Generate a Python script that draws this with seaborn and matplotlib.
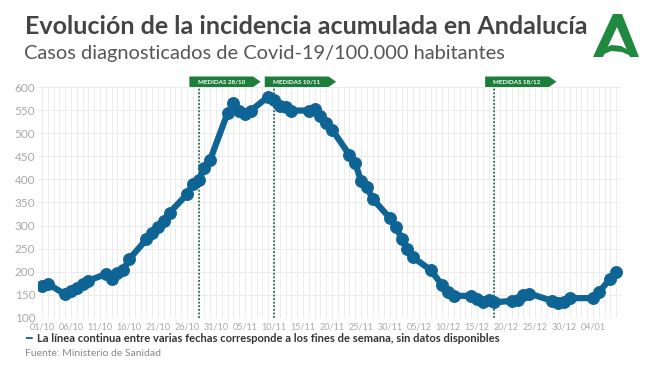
import pandas as pd
import numpy as np
import seaborn as sns
import matplotlib.pyplot as plt
import matplotlib.dates as mdates
from matplotlib.patches import Polygon

# datos (días laborables, los fines de semana se unen con la línea)
fechas = ['2020-10-01', '2020-10-02', '2020-10-05', '2020-10-06', '2020-10-07', '2020-10-08',
          '2020-10-09', '2020-10-12', '2020-10-13', '2020-10-14', '2020-10-15', '2020-10-16',
          '2020-10-19', '2020-10-20', '2020-10-21', '2020-10-22', '2020-10-23', '2020-10-26',
          '2020-10-27', '2020-10-28', '2020-10-29', '2020-10-30', '2020-11-02', '2020-11-03',
          '2020-11-04', '2020-11-05', '2020-11-06', '2020-11-09', '2020-11-10', '2020-11-11',
          '2020-11-12', '2020-11-13', '2020-11-16', '2020-11-17', '2020-11-18', '2020-11-19',
          '2020-11-20', '2020-11-23', '2020-11-24', '2020-11-25', '2020-11-26', '2020-11-27',
          '2020-11-30', '2020-12-01', '2020-12-02', '2020-12-03', '2020-12-04', '2020-12-07',
          '2020-12-09', '2020-12-10', '2020-12-11', '2020-12-14', '2020-12-15', '2020-12-16',
          '2020-12-17', '2020-12-18', '2020-12-21', '2020-12-22', '2020-12-23', '2020-12-24',
          '2020-12-28', '2020-12-29', '2020-12-30', '2020-12-31', '2021-01-04', '2021-01-05',
          '2021-01-07', '2021-01-08']
incidencia = [170, 174, 151, 159, 166, 174,
              181, 195, 184, 198, 204, 227,
              270, 283, 298, 309, 328, 368,
              390, 398, 424, 443, 544, 565,
              549, 541, 549, 579, 571, 559,
              556, 549, 549, 552, 538, 521,
              508, 453, 435, 397, 384, 358,
              316, 298, 272, 250, 231, 204,
              171, 156, 148, 148, 142, 135,
              138, 134, 137, 140, 149, 153,
              137, 133, 134, 143, 143, 156,
              185, 199]

medidas = ['2020-10-28', '2020-11-10', '2020-12-18']
medidas_txt = ['MEDIDAS 28/10', 'MEDIDAS 10/11', 'MEDIDAS 18/12']

y_ticks = [100, 150, 200, 250, 300, 350, 400, 450, 500, 550, 600]

azul = '#0e6494'
verde = '#1d7d3b'
gris = '#a8a8a8'

df = pd.DataFrame({'fecha': pd.to_datetime(fechas), 'ia': incidencia})

sns.set_style('white')
plt.rcParams['font.family'] = ['Lato', 'DejaVu Sans']

fig = plt.figure(figsize=(6.5, 3.65), dpi=100)
ax = fig.add_axes([38 / 650, 1 - 318 / 365, 584 / 650, 231 / 365])

sns.lineplot(x='fecha', y='ia', data=df, ax=ax, color=azul, lw=4.5,
             marker='o', markersize=8.5, markeredgecolor=azul, zorder=5)

inicio = pd.Timestamp('2020-10-01')
ax.set_xlim(mdates.date2num(inicio) - 0.7, mdates.date2num(inicio) + 100)
ax.set_ylim(100, 600)

# ticks y rejilla
x_ticks = pd.date_range('2020-10-01', '2021-01-04', freq='5D')
ax.set_xticks(x_ticks)
ax.set_xticklabels([d.strftime('%d/%m') for d in x_ticks])
ax.xaxis.set_minor_locator(mdates.DayLocator())
ax.set_yticks(y_ticks)
ax.grid(True, which='both', axis='x', color='#ececec', lw=0.7)
ax.grid(True, which='major', axis='y', color='#ececec', lw=0.7)
ax.tick_params(axis='x', which='both', length=0, labelsize=6.5, labelcolor=gris, pad=3)
ax.tick_params(axis='y', length=0, labelsize=8.5, labelcolor=gris, pad=2)
for s in ax.spines.values():
    s.set_visible(False)
ax.set_xlabel('')
ax.set_ylabel('')

# medidas: línea punteada + banderita
trans = ax.get_xaxis_transform()
for f, txt in zip(medidas, medidas_txt):
    xm = mdates.date2num(pd.Timestamp(f))
    ax.axvline(xm, color='#2e6b4f', ls=(0, (1, 1)), lw=1.3, zorder=3)
    x0, x1, tip = xm - 1.6, xm + 9.4, 1.3
    top = 1 + 10.5 / 231
    flag = Polygon([(x0, 1.0), (x1, 1.0), (x1 + tip, (1 + top) / 2), (x1, top), (x0, top)],
                   closed=True, transform=trans, fc=verde, ec='none', clip_on=False)
    ax.add_patch(flag)
    ax.text((x0 + x1) / 2, (1 + top) / 2, txt, transform=trans, ha='center', va='center',
            color='white', fontsize=4.5, fontweight='bold')

# títulos
fig.text(25 / 650, 1 - 27 / 365, 'Evolución de la incidencia acumulada en Andalucía',
         fontsize=18, fontweight='bold', color='#444444', va='center', ha='left')
fig.text(24 / 650, 1 - 53 / 365, 'Casos diagnosticados de Covid-19/100.000 habitantes',
         fontsize=14.4, color='#555555', va='center', ha='left')

# leyenda y fuente
fig.text(25 / 650, 1 - 339 / 365, '━', color=azul, fontsize=8, va='center', ha='left',
         family=['DejaVu Sans'])
fig.text(37 / 650, 1 - 339 / 365,
         'La línea continua entre varias fechas corresponde a los fines de semana, sin datos disponibles',
         fontsize=8, fontweight='bold', color='#333333', va='center', ha='left')
fig.text(25 / 650, 1 - 354 / 365, 'Fuente: Ministerio de Sanidad', fontsize=7.5,
         color='#888888', va='center', ha='left')

# logo (A verde)
def px(pts):
    return [(x / 650, 1 - y / 365) for x, y in pts]

logo_a = px([(593, 57), (613, 14), (622, 14), (639, 57), (630, 57), (617, 27), (603, 57)])
logo_b = px([(602, 50), (611, 45), (621, 46), (630, 51), (633, 57), (622, 52), (611, 51), (600, 56)])
for p in (logo_a, logo_b):
    fig.patches.append(Polygon(p, closed=True, transform=fig.transFigure, fc='#1f8a3f', ec='none'))

fig.savefig('out.png', dpi=100)
